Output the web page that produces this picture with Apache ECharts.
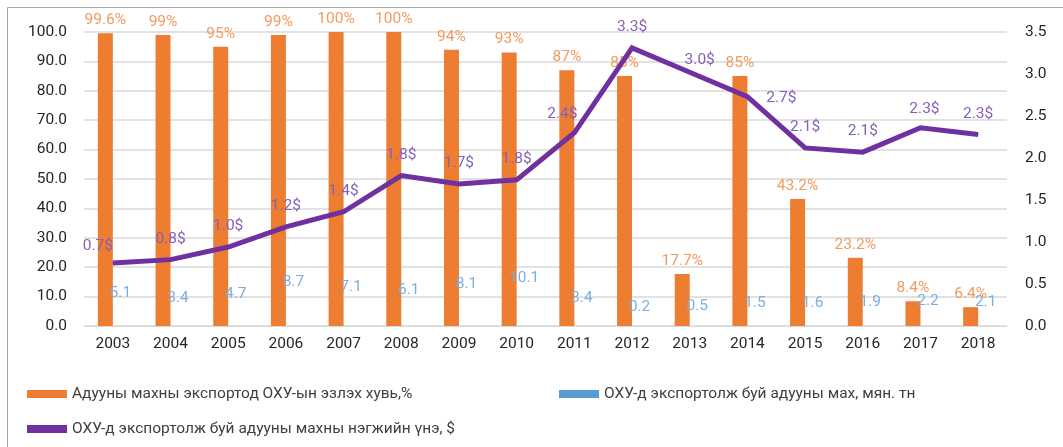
<!DOCTYPE html>
<html>
<head>
<meta charset="utf-8">
<script src="https://cdn.jsdelivr.net/npm/echarts@6/dist/echarts.min.js"></script>
<style>
  html, body { margin: 0; padding: 0; background: #fff; }
  #chart { width: 1063px; height: 447px; }
</style>
</head>
<body>
<div id="chart"></div>
<script>
const years = ['2003', '2004', '2005', '2006', '2007', '2008', '2009', '2010',
  '2011', '2012', '2013', '2014', '2015', '2016', '2017', '2018'];

// Адууны махны экспортод ОХУ-ын эзлэх хувь, %
const shareRu = [99.6, 99, 95, 99, 100, 100, 94, 93, 87, 85, 17.7, 85, 43.2, 23.2, 8.4, 6.4];

// ОХУ-д экспортолж буй адууны мах, мян. тн
const exportTonnes = [5.1, 3.4, 4.7, 8.7, 7.1, 6.1, 8.1, 10.1, 3.4, 0.2, 0.5, 1.5, 1.6, 1.9, 2.2, 2.1];

// ОХУ-д экспортолж буй адууны махны нэгжийн үнэ, $
const unitPrice = [0.75, 0.79, 0.94, 1.18, 1.36, 1.79, 1.69, 1.74, 2.30, 3.31, 3.02, 2.73, 2.12, 2.07, 2.36, 2.28];
const priceLabels = ['0.7$', '0.8$', '1.0$', '1.2$', '1.4$', '1.8$', '1.7$', '1.8$',
  '2.4$', '3.3$', '3.0$', '2.7$', '2.1$', '2.1$', '2.3$', '2.3$'];

const leftTicks = { min: 0, max: 100, interval: 10 };
const rightTicks = { min: 0, max: 3.5, interval: 0.5 };

const names = [
  'Адууны махны экспортод ОХУ-ын эзлэх хувь,%',
  'ОХУ-д экспортолж буй адууны мах, мян. тн',
  'ОХУ-д экспортолж буй адууны махны нэгжийн үнэ, $'
];
const colors = { orange: '#ed7d31', blue: '#5b9bd5', purple: '#7030a0' };

const font = 'Roboto, "Noto Sans", sans-serif';
const chart = echarts.init(document.getElementById('chart'));

// зарим шошгыг бага зэрэг зөөнө (dx, dy)
const labelShift = { 0: [-15, 4], 8: [-12, 2], 10: [10, 8], 11: [34, 22], 14: [4, 2] };

const legendBase = {
  itemWidth: 40, itemHeight: 8, icon: 'rect',
  textStyle: { fontFamily: font, fontSize: 15.5, color: '#404040' },
  selectedMode: false
};

chart.setOption({
  backgroundColor: '#fff',
  animation: false,
  textStyle: { fontFamily: font },
  graphic: [{
    type: 'rect', silent: true,
    shape: { x: 7.5, y: 7.5, width: 1200, height: 600 },
    style: { fill: 'none', stroke: '#a6a6a6', lineWidth: 1 }
  }],
  grid: { left: 84, right: 56, top: 32, bottom: 121 },
  legend: [
    Object.assign({ left: 22, top: 381, data: [{ name: names[0] }] }, legendBase),
    Object.assign({ left: 554, top: 381, data: [{ name: names[1], itemStyle: { color: colors.blue } }] }, legendBase),
    Object.assign({ left: 22, top: 416, data: [{ name: names[2] }] }, legendBase)
  ],
  xAxis: {
    type: 'category',
    data: years,
    axisTick: { show: false },
    axisLine: { show: true, lineStyle: { color: '#d9d9d9' } },
    axisLabel: { color: '#262626', fontSize: 15.5, margin: 10 }
  },
  yAxis: [{
    type: 'value',
    min: leftTicks.min, max: leftTicks.max, interval: leftTicks.interval,
    axisLabel: { color: '#262626', fontSize: 15.5, margin: 17, formatter: v => v.toFixed(1) },
    splitLine: { lineStyle: { color: '#d9d9d9', width: 1.5 } },
    axisLine: { show: false }, axisTick: { show: false }
  }, {
    type: 'value',
    min: rightTicks.min, max: rightTicks.max, interval: rightTicks.interval,
    axisLabel: { color: '#262626', fontSize: 15.5, margin: 18, formatter: v => v.toFixed(1) },
    splitLine: { show: false },
    axisLine: { show: false }, axisTick: { show: false }
  }],
  series: [{
    name: names[0],
    type: 'bar',
    data: shareRu,
    barWidth: 15,
    barGap: '0%',
    itemStyle: { color: colors.orange },
    label: {
      show: true, position: 'top', distance: 5,
      color: '#f29b5e', fontSize: 15.5,
      formatter: p => p.value + '%'
    }
  }, {
    name: names[1],
    type: 'bar',
    data: exportTonnes,
    barWidth: 15,
    itemStyle: { color: 'rgba(0,0,0,0)' },
    label: {
      show: true, position: 'top', distance: 10,
      color: '#7eaee0', fontSize: 15.5
    }
  }, {
    name: names[2],
    type: 'line',
    yAxisIndex: 1,
    data: unitPrice,
    symbol: 'circle',
    symbolSize: 1,
    showSymbol: true,
    lineStyle: { color: colors.purple, width: 5, join: 'miter' },
    itemStyle: { color: colors.purple },
    label: {
      show: true, position: 'top', distance: 12,
      color: '#8560b8', fontSize: 15.5,
      formatter: p => priceLabels[p.dataIndex]
    },
    labelLayout: p => {
      const s = labelShift[p.dataIndex];
      return s ? { dx: s[0], dy: s[1], hideOverlap: false } : { hideOverlap: false };
    },
    z: 5
  }]
});
</script>
</body>
</html>
